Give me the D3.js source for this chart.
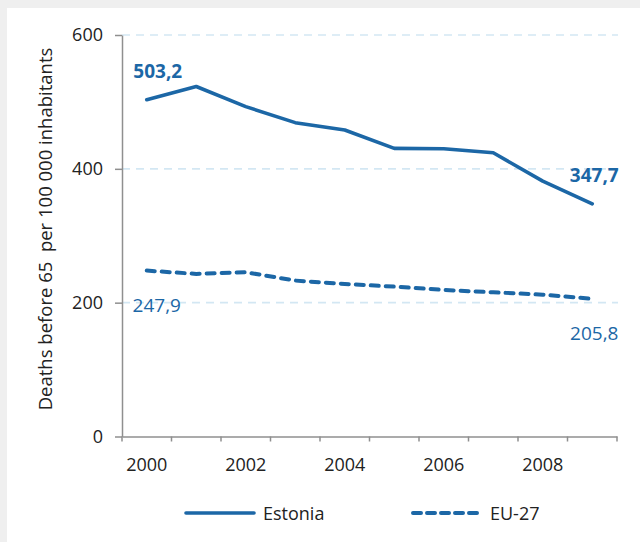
<!DOCTYPE html>
<html>
<head>
<meta charset="utf-8">
<script src="https://cdn.jsdelivr.net/npm/d3@7"></script>
<style>
  html, body { margin: 0; padding: 0; background: #efefef; }
  svg { display: block; }
  text { font-family: "Open Sans", "Noto Sans", sans-serif; }
</style>
</head>
<body>
<svg id="chart" width="640" height="542"></svg>
<script>
// Premature deaths (before 65) per 100 000 inhabitants
const years = [2000, 2001, 2002, 2003, 2004, 2005, 2006, 2007, 2008, 2009];
const estonia = [503.2, 523, 493, 469, 458, 430.5, 430, 424, 381.6, 347.7];
const eu27 = [247.9, 243, 245.5, 233, 228, 224, 219, 215.5, 212, 205.8];
const yTicks = [0, 200, 400, 600];
const xTickLabels = [2000, 2002, 2004, 2006, 2008];
const seriesNames = ["Estonia", "EU-27"];

const blue = "#1c67a6";
const axisGray = "#8f8f8f";
const gridBlue = "#d3e7f3";

const svg = d3.select("#chart");

// white panel
svg.append("rect").attr("x", 7).attr("y", 8).attr("width", 633).attr("height", 534).attr("fill", "#ffffff");

const x = d3.scaleBand().domain(years).range([122, 617]).paddingInner(0).paddingOuter(0);
const xc = d => x(d) + x.bandwidth() / 2;
const y = d3.scaleLinear().domain([0, 600]).range([436.5, 35]);

// gridlines
svg.append("g").selectAll("line").data(yTicks.filter(v => v > 0)).join("line")
  .attr("x1", 122).attr("x2", 618)
  .attr("y1", d => y(d)).attr("y2", d => y(d))
  .attr("stroke", gridBlue).attr("stroke-width", 1.6)
  .attr("stroke-dasharray", "8,6");

// y axis
const yAxis = svg.append("g").attr("transform", "translate(122,0)")
  .call(d3.axisLeft(y).tickValues(yTicks).tickSize(7).tickSizeOuter(0).tickPadding(12));
yAxis.select(".domain").attr("stroke", axisGray).attr("stroke-width", 1.5);
yAxis.selectAll(".tick line").attr("stroke", axisGray).attr("stroke-width", 1.5);
yAxis.selectAll(".tick text").attr("fill", "#222").style("font-size", "18px");

// x axis: tick marks on band boundaries, labels on every other year
const xAxis = svg.append("g").attr("transform", `translate(0,${y(0)})`)
  .call(d3.axisBottom(x).tickValues(xTickLabels).tickSize(0).tickPadding(22));
xAxis.select(".domain").attr("stroke", axisGray).attr("stroke-width", 1.5);
xAxis.selectAll(".tick text").attr("fill", "#222").style("font-size", "18px");
const edges = years.map(d => x(d)).concat([x.range()[1]]);
svg.append("g").selectAll("line").data(edges).join("line")
  .attr("x1", d => d).attr("x2", d => d)
  .attr("y1", y(0)).attr("y2", y(0) + 5)
  .attr("stroke", axisGray).attr("stroke-width", 1.5);

// y axis title
svg.append("text")
  .attr("transform", `translate(52,229) rotate(-90)`)
  .attr("text-anchor", "middle")
  .attr("fill", "#222")
  .style("font-size", "18.5px")
  .style("white-space", "pre")
  .text("Deaths before 65  per 100 000 inhabitants");

// lines
const line = d3.line().x((d, i) => xc(years[i])).y(d => y(d));
svg.append("path").datum(estonia)
  .attr("d", line).attr("fill", "none")
  .attr("stroke", blue).attr("stroke-width", 3.6)
  .attr("stroke-linejoin", "round").attr("stroke-linecap", "round");
svg.append("path").datum(eu27)
  .attr("d", line).attr("fill", "none")
  .attr("stroke", blue).attr("stroke-width", 4)
  .attr("stroke-dasharray", "8,7")
  .attr("stroke-linecap", "round");

// value labels at the ends
const fmt = v => d3.format(".1f")(v).replace(".", ",");
const lbl = (txt, xx, yy, bold) => svg.append("text")
  .attr("x", xx).attr("y", yy)
  .attr("text-anchor", "middle")
  .attr("fill", blue)
  .style("font-size", "19px")
  .style("font-weight", bold ? 700 : 400)
  .text(txt);
lbl(fmt(estonia[0]), xc(years[0]) + 11, y(estonia[0]) - 22, true);
lbl(fmt(estonia[estonia.length - 1]), xc(years[years.length - 1]) + 2, y(estonia[estonia.length - 1]) - 22, true);
lbl(fmt(eu27[0]), xc(years[0]) + 10, y(eu27[0]) + 41, false);
lbl(fmt(eu27[eu27.length - 1]), xc(years[years.length - 1]) + 2, y(eu27[eu27.length - 1]) + 41, false);

// legend
const legend = svg.append("g");
const legendItems = [
  { name: seriesNames[0], x0: 186, dash: null, w: 3.6 },
  { name: seriesNames[1], x0: 413, dash: "8,6", w: 4 }
];
legendItems.forEach(it => {
  legend.append("line")
    .attr("x1", it.x0).attr("x2", it.x0 + 68)
    .attr("y1", 513).attr("y2", 513)
    .attr("stroke", blue).attr("stroke-width", it.w)
    .attr("stroke-linecap", "round")
    .attr("stroke-dasharray", it.dash);
  legend.append("text")
    .attr("x", it.x0 + 77).attr("y", 519.5)
    .attr("fill", "#222").style("font-size", "18px")
    .text(it.name);
});
</script>
</body>
</html>
